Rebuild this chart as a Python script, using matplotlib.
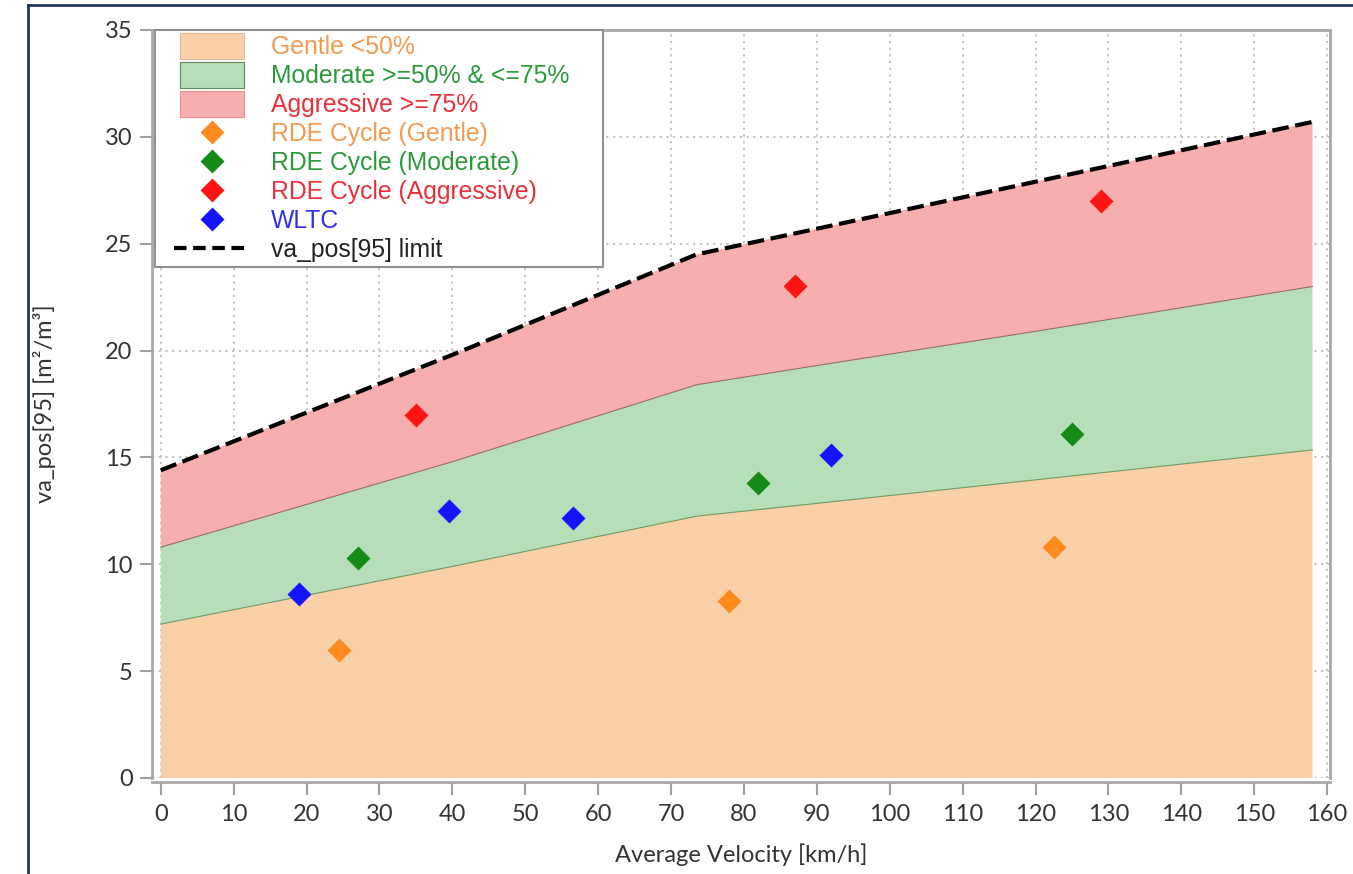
import matplotlib
matplotlib.use("Agg")
import matplotlib.pyplot as plt
from matplotlib.lines import Line2D
from matplotlib.patches import Patch, Rectangle
from matplotlib.legend_handler import HandlerPatch, HandlerLine2D

# ---- data ----
band_x = [0, 20, 40, 73.5, 90, 120, 158]
limit_95 = [14.4, 17.1, 19.8, 24.5, 25.7, 27.9, 30.7]
bound_75 = [10.8, 12.8, 14.8, 18.4, 19.3, 20.9, 23.0]
bound_50 = [7.2, 8.55, 9.9, 12.25, 12.85, 13.95, 15.35]

gentle_x = [24.5, 78, 122.5]
gentle_y = [6.0, 8.3, 10.8]
moderate_x = [27, 82, 125]
moderate_y = [10.3, 13.8, 16.1]
aggressive_x = [35, 87, 129]
aggressive_y = [17.0, 23.0, 27.0]
wltc_x = [19, 39.5, 56.5, 92]
wltc_y = [8.6, 12.5, 12.15, 15.1]

x_ticks = list(range(0, 161, 10))
y_ticks = list(range(0, 36, 5))

# ---- figure ----
W, H = 1353, 874
fig = plt.figure(figsize=(W / 100, H / 100), dpi=100)
fig.patch.set_facecolor("white")

ax = fig.add_axes([152 / W, 1 - 778 / H, (1330 - 152) / W, (778 - 30) / H])
ax.set_xlim(-1.2, 160.4)
ax.set_ylim(0, 35)

c_or_face = "#F9D0A8"
c_gr_face = "#B6DEB9"
c_rd_face = "#F6AEAE"

zero = [0] * len(band_x)
ax.fill_between(band_x, zero, bound_50, facecolor=c_or_face, linewidth=0, zorder=2)
ax.fill_between(band_x, bound_50, bound_75, facecolor=c_gr_face, linewidth=0, zorder=2)
ax.fill_between(band_x, bound_75, limit_95, facecolor=c_rd_face, linewidth=0, zorder=2)
ax.plot(band_x, bound_50, color="#6E9A62", lw=0.8, zorder=3)
ax.plot(band_x, bound_75, color="#9A6A6A", lw=0.8, zorder=3)
ax.plot(band_x, limit_95, color="black", lw=3, linestyle=(0, (4, 1.6)), zorder=4)

ms = 12
ax.plot(gentle_x, gentle_y, "D", color="#FF8A1E", ms=ms, mec="none", zorder=5)
ax.plot(moderate_x, moderate_y, "D", color="#168A16", ms=ms, mec="none", zorder=5)
ax.plot(aggressive_x, aggressive_y, "D", color="#FF1414", ms=ms, mec="none", zorder=5)
ax.plot(wltc_x, wltc_y, "D", color="#1414FF", ms=ms, mec="none", zorder=5)

# grid / spines / ticks
ax.set_xticks(x_ticks)
ax.set_yticks(y_ticks)
ax.grid(True, color="#BDBDBD", linestyle=(0, (1.2, 2.5)), linewidth=1.3, zorder=0)
ax.set_axisbelow(True)
for s in ax.spines.values():
    s.set_color("#A8A8A8")
    s.set_linewidth(2)
ax.spines["bottom"].set_position(("outward", 3))
ax.tick_params(axis="both", colors="#A0A0A0", width=1.5, length=9, direction="out",
               labelcolor="#333333", labelsize=17)
ax.tick_params(axis="x", pad=7)
ax.tick_params(axis="y", pad=5)
for lab in ax.get_xticklabels() + ax.get_yticklabels():
    lab.set_family("Lato")

fig.text(741 / W, 1 - 855 / H, "Average Velocity [km/h]", ha="center", va="center",
         fontsize=17, family="Lato", color="#333333")
fig.text(45 / W, 1 - 404 / H, "va_pos[95] [m\u00b2/m\u00b3]", ha="center", va="center",
         rotation=90, fontsize=17, family="Lato", color="#333333")

# legend
handles = [
    Patch(facecolor=c_or_face, edgecolor="#E8B890", lw=0.8),
    Patch(facecolor=c_gr_face, edgecolor="#5E8A55", lw=0.8),
    Patch(facecolor=c_rd_face, edgecolor="#E89090", lw=0.8),
    Line2D([], [], marker="D", ls="none", color="#FF8A1E", ms=ms, mec="none"),
    Line2D([], [], marker="D", ls="none", color="#168A16", ms=ms, mec="none"),
    Line2D([], [], marker="D", ls="none", color="#FF1414", ms=ms, mec="none"),
    Line2D([], [], marker="D", ls="none", color="#1414FF", ms=ms, mec="none"),
    Line2D([], [], color="black", lw=3, linestyle=(0, (3, 1.6))),
]
labels = ["Gentle <50%", "Moderate >=50% & <=75%", "Aggressive >=75%",
          "RDE Cycle (Gentle)", "RDE Cycle (Moderate)", "RDE Cycle (Aggressive)",
          "WLTC", "va_pos[95] limit"]
text_colors = ["#F29A50", "#2A9A3A", "#E8303A", "#F29A50", "#2A9A3A", "#E8303A",
               "#3030E0", "#222222"]


def tall_patch(legend, orig_handle, xdescent, ydescent, width, height, fontsize):
    extra = 0.18 * fontsize
    return Rectangle((-xdescent, -ydescent - extra / 2), width, height + extra)


handler_map = {h: (HandlerPatch(xpad=0.8, patch_func=tall_patch) if isinstance(h, Patch)
                   else HandlerLine2D(xpad=0.8) if h.get_marker() == "D"
                   else HandlerLine2D(xpad=0.55)) for h in handles}

leg = fig.legend(handles, labels, loc="upper left",
                 bbox_to_anchor=(155 / W, 1 - 272 / H, (603 - 155) / W, (272 - 30) / H),
                 bbox_transform=fig.transFigure, mode="expand",
                 borderaxespad=0, borderpad=0.2, handlelength=3.4, handleheight=1.0,
                 handletextpad=1.1, labelspacing=0.18, fancybox=False, framealpha=1,
                 edgecolor="#909090", prop={"family": "Liberation Sans", "size": 17.8},
                 handler_map=handler_map)
leg.get_frame().set_linewidth(1.5)
for t, c in zip(leg.get_texts(), text_colors):
    t.set_color(c)

# outer navy border (left and top edges)
fig.add_artist(Line2D([28 / W, 28 / W], [0, 1 - 5 / H], color="#1F3864", lw=2,
                      transform=fig.transFigure))
fig.add_artist(Line2D([28 / W, 1], [1 - 5 / H, 1 - 5 / H], color="#1F3864", lw=2,
                      transform=fig.transFigure))

fig.savefig("out.png", dpi=100)
